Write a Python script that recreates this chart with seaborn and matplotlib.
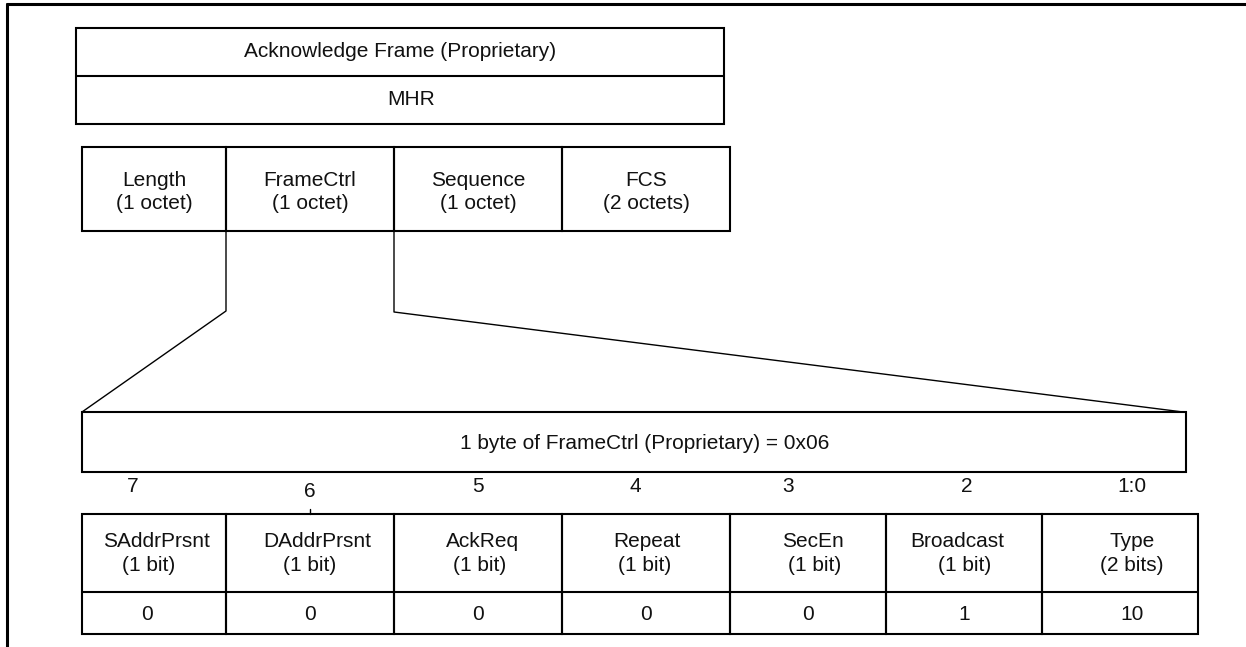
import matplotlib.pyplot as plt
from matplotlib.patches import Rectangle
import seaborn as sns

# Diagram content
frame_title = "Acknowledge Frame (Proprietary)"
frame_header = "MHR"
field_names = ["Length", "FrameCtrl", "Sequence", "FCS"]
field_sizes = ["(1 octet)", "(1 octet)", "(1 octet)", "(2 octets)"]
byte_title = "1 byte of FrameCtrl (Proprietary) = 0x06"
bit_numbers = ["7", "6", "5", "4", "3", "2", "1:0"]
bit_names = ["SAddrPrsnt", "DAddrPrsnt", "AckReq", "Repeat", "SecEn", "Broadcast", "Type"]
bit_sizes = ["(1 bit)", "(1 bit)", "(1 bit)", "(1 bit)", "(1 bit)", "(1 bit)", "(2 bits)"]
bit_values = ["0", "0", "0", "0", "0", "1", "10"]

# Layout (pixel coordinates, y grows downwards)
W, H = 1246, 647
top_box = (76, 724, 28, 76, 124)            # x0, x1, y0, ymid, y1
field_edges = [82, 226, 394, 562, 730]
field_y = (147, 231)
byte_box = (82, 1186, 412, 472)
bit_edges = [82, 226, 394, 562, 730, 886, 1042, 1198]
bit_y = (514, 592, 634)
bit_num_x = [133, 310, 478, 635, 788, 967, 1132]
bit_num_y = [492, 497, 492, 492, 492, 492, 492]
bit_name_x = [156, 317, 483, 647, 813, 957, 1132]
bit_size_x = [149, 310, 480, 645, 815, 965, 1132]
bit_val_x = [147, 310, 478, 646, 808, 964, 1132]

sns.set_theme(style="white")
plt.rcParams['font.family'] = ['Liberation Sans', 'DejaVu Sans']
fs = 15
lw = 1.5

fig = plt.figure(figsize=(W / 100, H / 100), dpi=100)
ax = fig.add_axes([0, 0, 1, 1])
ax.set_xlim(0, W)
ax.set_ylim(H, 0)
ax.axis('off')


def box(x0, x1, y0, y1, lw=lw):
    ax.add_patch(Rectangle((x0, y0), x1 - x0, y1 - y0, fill=False,
                           edgecolor='black', linewidth=lw))


def label(x, y, s):
    # y is the text baseline
    ax.text(x, y, s, ha='center', va='baseline', fontsize=fs, color='#111111')


# outer frame (top and left only)
ax.plot([7, W], [4, 4], color='black', lw=2.2)
ax.plot([7, 7], [4, H], color='black', lw=2.2)

# top box
x0, x1, y0, ym, y1 = top_box
box(x0, x1, y0, y1)
ax.plot([x0, x1], [ym, ym], color='black', lw=lw)
label(400, 57, frame_title)
label(411, 105, frame_header)

# field boxes
for i, (name, size) in enumerate(zip(field_names, field_sizes)):
    a, b = field_edges[i], field_edges[i + 1]
    box(a, b, *field_y)
    cx = (a + b) / 2
    label(cx, 186, name)
    label(cx, 209, size)

# zoom connector lines from FrameCtrl to the byte box
fc0, fc1 = field_edges[1], field_edges[2]
ax.plot([fc0, fc0, byte_box[0]], [field_y[1], 311, byte_box[2]], color='black', lw=1.0)
ax.plot([fc1, fc1, byte_box[1] - 3], [field_y[1], 312, byte_box[2]], color='black', lw=1.0)

# byte box
box(byte_box[0], byte_box[1], byte_box[2], byte_box[3])
label(645, 449, byte_title)

# bit numbers
for x, y, s in zip(bit_num_x, bit_num_y, bit_numbers):
    label(x, y, s)
ax.plot([310, 310], [509, bit_y[0]], color='black', lw=1.0)

# bit table
for i in range(len(bit_names)):
    a, b = bit_edges[i], bit_edges[i + 1]
    box(a, b, bit_y[0], bit_y[2])
    ax.plot([a, b], [bit_y[1], bit_y[1]], color='black', lw=lw)
    label(bit_name_x[i], 547, bit_names[i])
    label(bit_size_x[i], 571, bit_sizes[i])
    label(bit_val_x[i], 620, bit_values[i])

fig.savefig("out.png", dpi=100, facecolor='white')
